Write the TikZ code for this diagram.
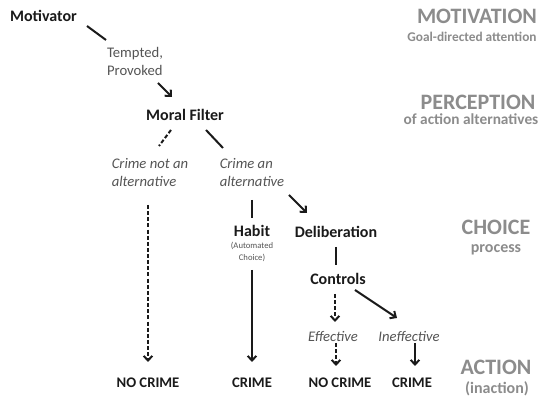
\documentclass[tikz,border=0pt]{standalone}
\usepackage{fontspec}
\setmainfont{Carlito}
\usetikzlibrary{arrows.meta,calc}
\definecolor{ink}{HTML}{1A1A1A}
\definecolor{soft}{HTML}{555555}
\definecolor{level}{HTML}{8C8C8C}
\tikzset{
  box/.style={inner sep=0pt, text=ink, font=\bfseries\fontsize{12}{14}\selectfont},
  outcome/.style={inner sep=0pt, text=ink, font=\bfseries\fontsize{11}{13}\selectfont},
  path/.style={inner sep=0pt, text=soft, align=left, font=\itshape\fontsize{11}{13.5}\selectfont},
  stage/.style={inner sep=0pt, text=level, font=\bfseries\fontsize{16.5}{18}\selectfont},
  sub/.style={inner sep=0pt, text=level, font=\bfseries\fontsize{12}{14}\selectfont},
  link/.style={draw=ink, line width=1.5pt},
  maybe/.style={link, dash pattern=on 3pt off 1.6pt},
}
\begin{document}
\begin{tikzpicture}[x=0.75pt, y=-0.75pt, >={Straight Barb[length=3.5pt,width=6.5pt]}]
  \useasboundingbox[fill=white] (0,0) rectangle (551,398);
  % chain of the person
  \node[box] (mot) at (43.5,16) {Motivator};
  \node[path, font=\fontsize{11}{13.5}\selectfont] (tempt) at (135,61) {Tempted,\\Provoked};
  \node[box] (moral) at (185,115) {Moral Filter};
  \node[path] (notalt) at (150,173) {Crime not an\\alternative};
  \node[path] (alt) at (252,173) {Crime an\\alternative};
  \node[box] (habit) at (252,231) {Habit};
  \node[inner sep=0pt, text=soft, align=center, font=\fontsize{6.5}{8.5}\selectfont] (auto) at (252,252) {(Automated\\Choice)};
  \node[box] (delib) at (336,232) {Deliberation};
  \node[box] (ctrl) at (338,279) {Controls};
  \node[path] (eff) at (333,336) {Effective};
  \node[path] (ineff) at (409,336) {Ineffective};
  \node[outcome] (none1) at (148,383) {NO CRIME};
  \node[outcome] (crime1) at (252,383) {CRIME};
  \node[outcome] (none2) at (340,383) {NO CRIME};
  \node[outcome] (crime2) at (412,383) {CRIME};
  % levels on the right
  \node[stage] (motiv) at (477,16) {MOTIVATION};
  \node[sub, font=\bfseries\fontsize{10}{12}\selectfont] at (472,37) {Goal-directed attention};
  \node[stage] (perc) at (478,102) {PERCEPTION};
  \node[sub, font=\bfseries\fontsize{11.5}{13}\selectfont] at (471,119) {of action alternatives};
  \node[stage] (choice) at (496,227) {CHOICE};
  \node[sub] at (496,250) {process};
  \node[stage] (action) at (496,367) {ACTION};
  \node[sub] at (497,389) {(inaction)};
  % connectors
  \draw[link] ($(mot)+(43.5,10)$) -- ($(tempt)+(-29,-21)$);
  \draw[link,->] ($(tempt)+(23,22)$) -- ($(moral)+(-13,-18)$);
  \draw[maybe] ($(moral)+(-14,15)$) -- ($(notalt)+(9,-27)$);
  \draw[link] ($(moral)+(21,15)$) -- ($(alt)+(-29,-25)$);
  \draw[maybe,->] ($(notalt)+(-2,32)$) -- ($(none1)+(0,-21)$);
  \draw[link] ($(alt)+(0,27)$) -- ($(habit)+(0,-13)$);
  \draw[link,->] ($(alt)+(37,22)$) -- ($(delib)+(-29,-19)$);
  \draw[link,->] ($(auto)+(0,18)$) -- ($(crime1)+(0,-21)$);
  \draw[link] ($(delib)+(0,15)$) -- ($(ctrl)+(-2,-14)$);
  \draw[maybe,->] ($(ctrl)+(-3,15)$) -- ($(eff)+(2,-14)$);
  \draw[link,->] ($(ctrl)+(17,11)$) -- ($(ineff)+(-12,-18)$);
  \draw[maybe,->] ($(eff)+(3,7)$) -- ($(none2)+(-4,-17)$);
  \draw[link,->] ($(ineff)+(6,7)$) -- ($(crime2)+(3,-17)$);
\end{tikzpicture}
\end{document}
